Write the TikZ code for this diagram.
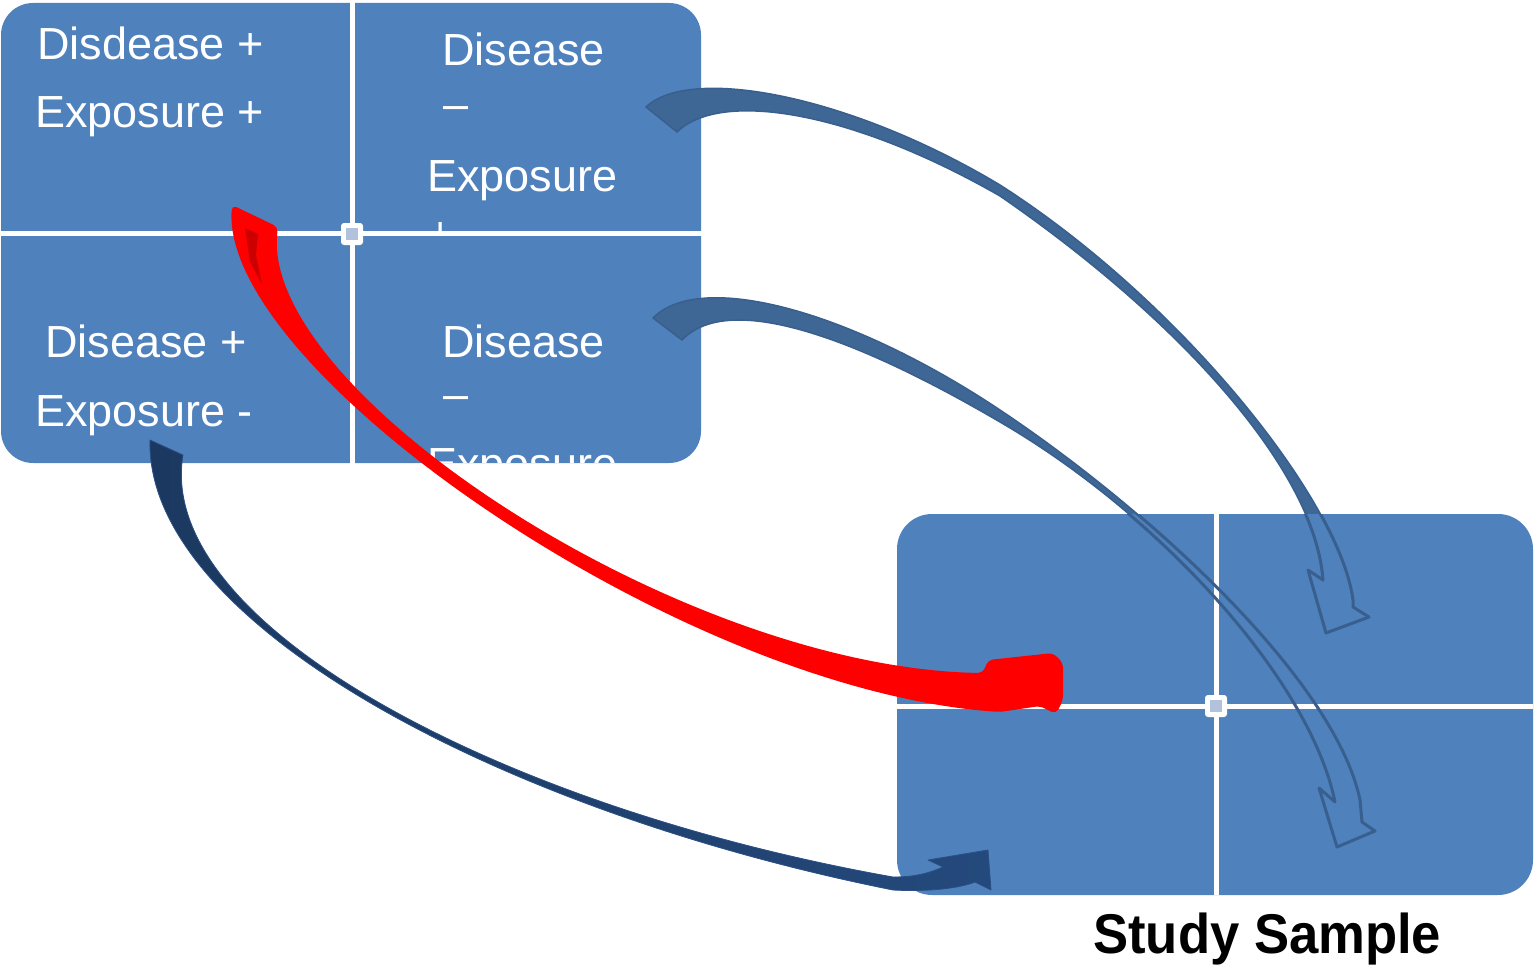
\documentclass[tikz,border=0pt]{standalone}
\usepackage{fontspec}
\setmainfont{Liberation Sans}
\definecolor{boxblue}{HTML}{4F81BD}
\definecolor{arrowfill}{HTML}{3E6796}
\definecolor{arrowline}{HTML}{385F8E}
\definecolor{navyA}{HTML}{1B3860}
\definecolor{navyB}{HTML}{24497C}
\definecolor{navyline}{HTML}{2B5084}
\definecolor{darkred}{HTML}{CC0000}
\definecolor{hdlfill}{HTML}{B3C2DC}
\tikzset{
  lbl/.style={text=white, font=\fontsize{45}{50}\selectfont, anchor=base west, inner sep=0pt},
  wline/.style={draw=white, line width=5pt},
  hdlout/.style={fill=white, rounded corners=3pt, minimum size=22pt, inner sep=0pt},
  hdlin/.style={fill=hdlfill, minimum size=12pt, inner sep=0pt},
  bluearrow/.style={fill=arrowfill, draw=arrowline, line width=1.5pt, line join=round},
  blueoutline/.style={draw=arrowline, line width=3pt, line join=round},
}
\def\arrowA{(646,107) .. controls (690,65) and (850,95) .. (1000,185) .. controls (1180,300) and (1340,500) .. (1353,600) -- (1353,607) -- (1369,617) -- (1326,633) -- (1308,570) -- (1323,580) .. controls (1315,470) and (1180,320) .. (1000,196) .. controls (850,110) and (720,90) .. (677,132) -- cycle}
\def\arrowB{(653,318) .. controls (700,270) and (850,310) .. (1000,410) .. controls (1150,510) and (1335,680) .. (1360,800) -- (1362,822) -- (1375,831) -- (1337,847) -- (1319,788) -- (1335,802) .. controls (1310,680) and (1160,515) .. (1000,422) .. controls (860,340) and (730,290) .. (682,340) -- cycle}
\def\arrowC{(150,440) .. controls (145,620) and (493,810) .. (893,890) .. controls (930,892) and (960,888) .. (975,882) -- (991,890) -- (988,850) -- (928,860) -- (943,867) .. controls (925,875) and (910,877) .. (893,877) .. controls (494,806) and (155,622) .. (183,455) -- cycle}
\def\arrowD{(232,205) .. controls (220,370) and (680,690) .. (1000,712) -- (1040,706) -- (1056,714) -- (1063,700) -- (1063,663) -- (1053,653) -- (988,660) -- (983,673) .. controls (680,668) and (258,390) .. (278,227) -- cycle}
\begin{document}
\begin{tikzpicture}[x=1pt,y=-1pt]
\useasboundingbox (0,0) rectangle (1535,966);
% upper table
\fill[boxblue, rounded corners=32pt] (1,3) rectangle (701,463);
\draw[wline] (352,2) -- (352,464);
\draw[wline] (0,233) -- (703,233);
\node[lbl] (t1) at (37,60) {Disdease +};
\node[lbl] (t2) at (35,128) {Exposure +};
\begin{scope}
  \clip (355,5) rectangle (701,231);
  \node[lbl] (t3) at (442,66) {Disease};
  \node[lbl] (t4) at (443,119) {–};
  \node[lbl] (t5) at (427,191) {Exposure};
  \node[lbl] (t6) at (427,248) {+};
\end{scope}
\node[lbl] (t7) at (45,357) {Disease +};
\node[lbl] (t8) at (35,426) {Exposure -};
\begin{scope}
  \clip (355,236) rectangle (701,462);
  \node[lbl] (t9) at (442,357) {Disease};
  \node[lbl] (t10) at (443,409) {–};
  \node[lbl] (t11) at (427,479) {Exposure};
\end{scope}
\node[hdlout] (h1) at (352,234) {};
\node[hdlin] (h1i) at (352,234) {};
% lower table (study sample)
\fill[boxblue, rounded corners=35pt] (897,514) rectangle (1533,895);
% blue curved arrows
\path[bluearrow] \arrowA;
\path[bluearrow] \arrowB;
\begin{scope}
  \clip[rounded corners=35pt] (897,514) rectangle (1533,895);
  \fill[boxblue] \arrowA;
  \fill[boxblue] \arrowB;
\end{scope}
\draw[wline] (1216,514) -- (1216,895);
\draw[wline] (897,706) -- (1533,706);
\begin{scope}
  \clip[rounded corners=35pt] (897,514) rectangle (1533,895);
  \path[blueoutline] \arrowA;
  \path[blueoutline] \arrowB;
\end{scope}
\node[hdlout] (h2) at (1216,706) {};
\node[hdlin] (h2i) at (1216,706) {};
% navy arrow
\shade[left color=navyA, right color=navyB] \arrowC;
\draw[navyline, line width=0.8pt, line join=round] \arrowC;
% red arrow
\fill[red, rounded corners=5pt] \arrowD;
\fill[darkred] (245,228) -- (258,234) -- (256,255) -- (262,284) -- (250,262) -- cycle;
% caption
\node[anchor=base west, inner sep=0pt] (cap) at (1093,953) {\scalebox{0.94}[1]{\fontsize{56}{60}\selectfont\bfseries Study Sample}};
\end{tikzpicture}
\end{document}
